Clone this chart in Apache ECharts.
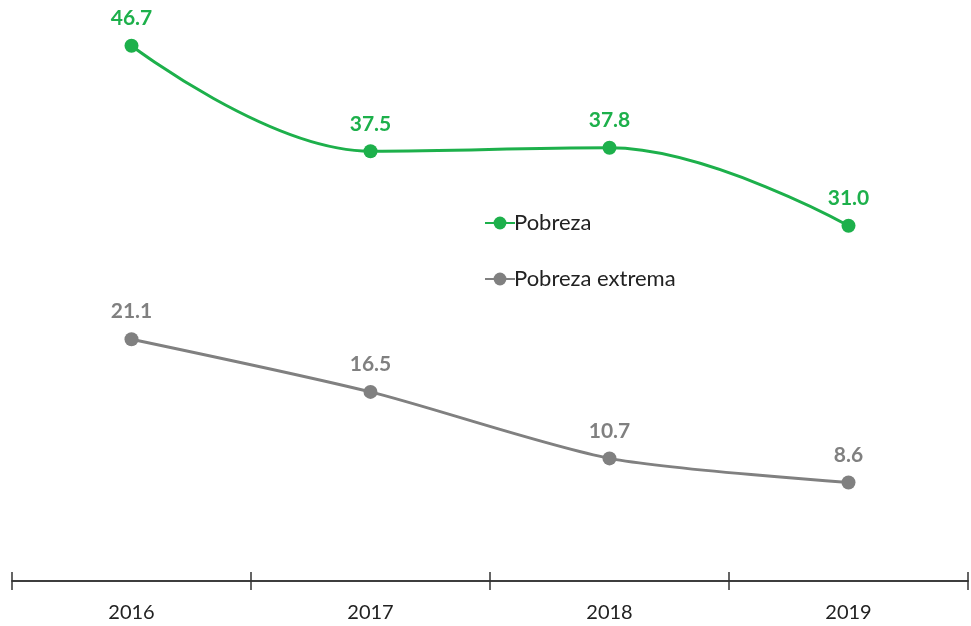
<!DOCTYPE html>
<html>
<head>
<meta charset="utf-8">
<script src="https://cdn.jsdelivr.net/npm/echarts@6/dist/echarts.min.js"></script>
<style>
	html, body { margin: 0; padding: 0; background: #fff; }
	#chart { width: 971px; height: 626px; }
</style>
</head>
<body>
<div id="chart"></div>
<script>
// datos
const years = ['2016', '2017', '2018', '2019']
const pobreza = [46.7, 37.5, 37.8, 31.0]
const pobrezaExtrema = [21.1, 16.5, 10.7, 8.6]

const chart = echarts.init(document.getElementById('chart'))
const font = 'Lato, "Open Sans", sans-serif'

// etiqueta de valor en negrita
function valueLabel(color) {
	return {
		show: true,
		position: 'top',
		distance: 10,
		fontSize: 21,
		fontWeight: 'bold',
		color: color,
		fontFamily: font,
		formatter: p => p.value.toFixed(1),
	}
}

const option = {
	color: ['#1db04b', '#808080'],
	textStyle: { fontFamily: font },
	grid: { left: 12, right: 3, top: 8, bottom: 45 },
	legend: {
		orient: 'vertical',
		left: 479,
		top: 207,
		itemGap: 34,
		itemWidth: 30,
		itemHeight: 16,
		textStyle: { fontSize: 22, color: '#222', fontFamily: font, padding: [0, 0, 0, -6] },
		data: ['Pobreza', 'Pobreza extrema'],
	},
	xAxis: [
		{
			type: 'category',
			data: years,
			boundaryGap: true,
			axisLine: { lineStyle: { color: '#333', width: 1.5 } },
			axisTick: { show: true, length: 9, lineStyle: { color: '#333', width: 1.5 } },
			axisLabel: { fontSize: 20, color: '#222', margin: 22, fontFamily: font },
		},
		{
			// marcas hacia arriba
			type: 'category',
			data: years,
			position: 'bottom',
			boundaryGap: true,
			axisLine: { lineStyle: { color: '#333', width: 1.5 } },
			axisTick: { show: true, inside: true, length: 9, lineStyle: { color: '#333', width: 1.5 } },
			axisLabel: { show: false },
		},
	],
	yAxis: {
		type: 'value',
		min: 0,
		max: 50,
		show: false,
		splitLine: { show: false },
	},
	series: [
		{
			name: 'Pobreza',
			type: 'line',
			data: pobreza,
			smooth: 0.4,
			symbol: 'circle',
			symbolSize: 14,
			lineStyle: { width: 3 },
			label: valueLabel('#1db04b'),
		},
		{
			name: 'Pobreza extrema',
			type: 'line',
			data: pobrezaExtrema,
			smooth: 0.25,
			symbol: 'circle',
			symbolSize: 14,
			lineStyle: { width: 3 },
			label: valueLabel('#808080'),
		},
	],
}
chart.setOption(option)
</script>
</body>
</html>
